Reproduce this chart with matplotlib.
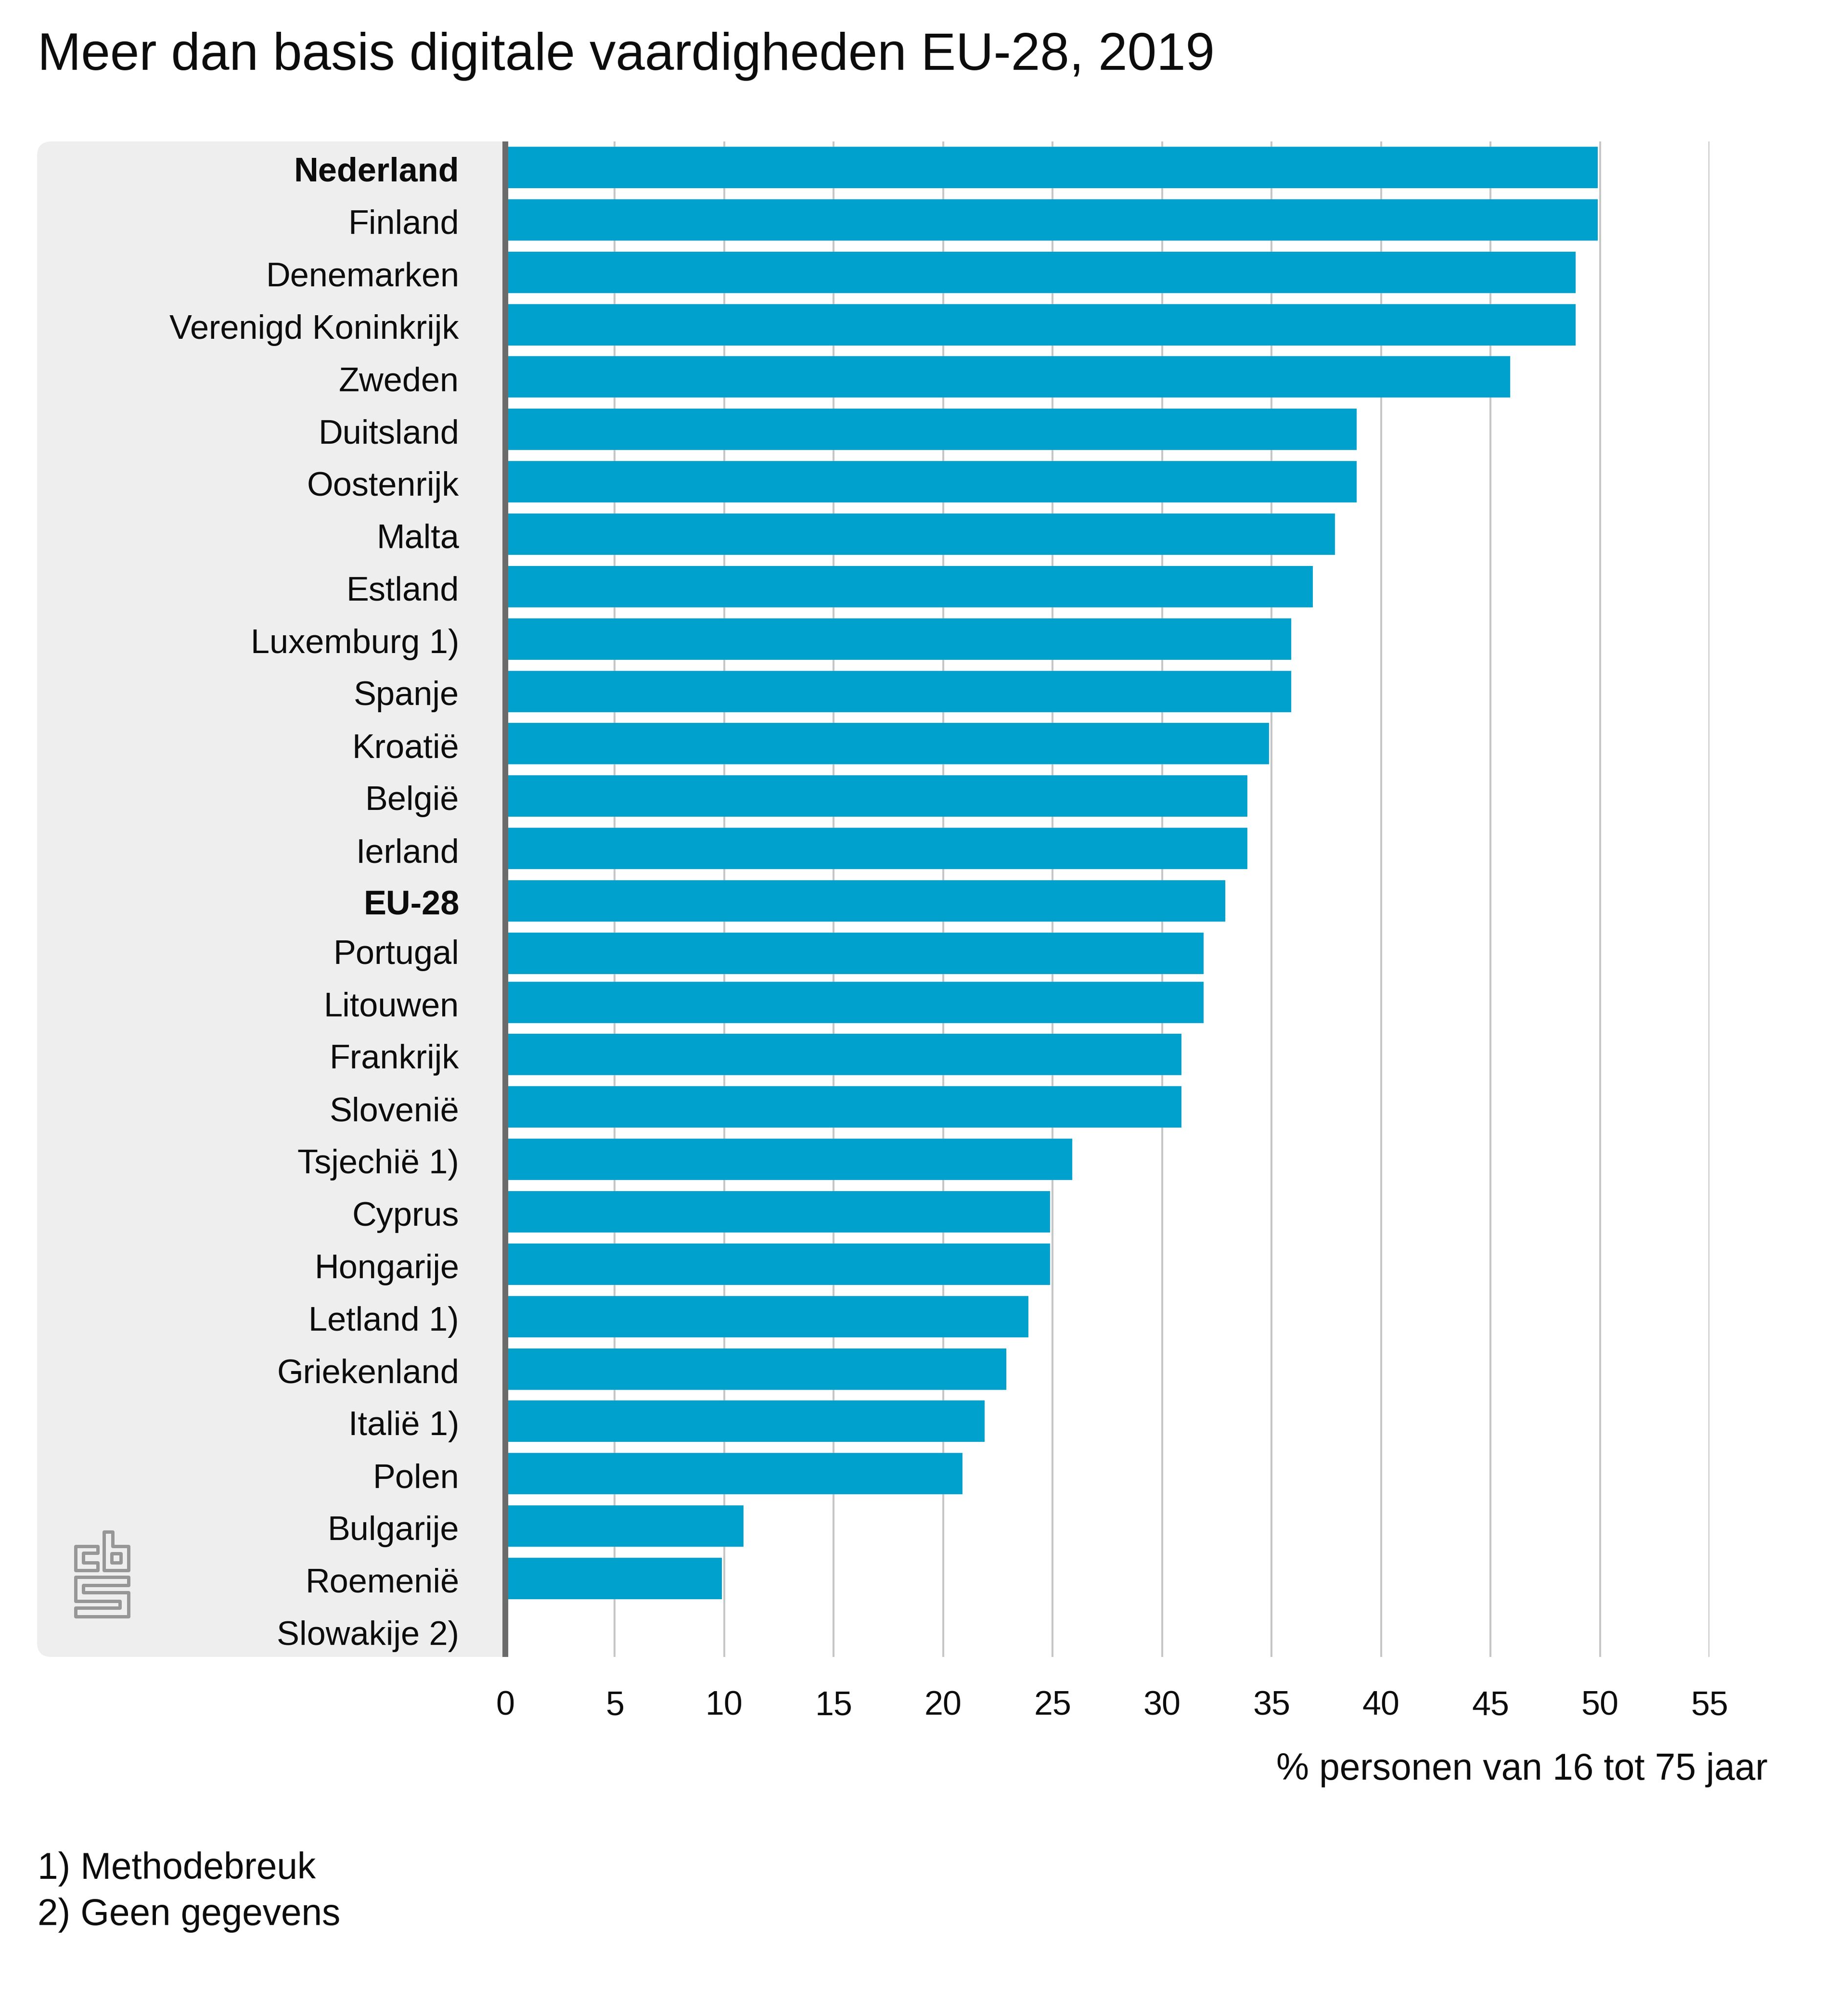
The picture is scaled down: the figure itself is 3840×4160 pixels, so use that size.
import numpy as np
import matplotlib
matplotlib.use("Agg")
import matplotlib.pyplot as plt
from matplotlib.path import Path
from matplotlib.patches import PathPatch, Polygon

plt.rcParams['font.family'] = ['Liberation Sans', 'DejaVu Sans']

title = "Meer dan basis digitale vaardigheden EU-28, 2019"
categories = ["Nederland", "Finland", "Denemarken", "Verenigd Koninkrijk", "Zweden",
              "Duitsland", "Oostenrijk", "Malta", "Estland", "Luxemburg 1)", "Spanje",
              "Kroatië", "België", "Ierland", "EU-28", "Portugal", "Litouwen",
              "Frankrijk", "Slovenië", "Tsjechië 1)", "Cyprus", "Hongarije",
              "Letland 1)", "Griekenland", "Italië 1)", "Polen", "Bulgarije",
              "Roemenië", "Slowakije 2)"]
values = [50, 50, 49, 49, 46, 39, 39, 38, 37, 36, 36, 35, 34, 34, 33, 32, 32, 31, 31,
          26, 25, 25, 24, 23, 22, 21, 11, 10, np.nan]
bold_labels = ["Nederland", "EU-28"]
x_ticks = list(range(0, 60, 5))
x_label = "% personen van 16 tot 75 jaar"
footnotes = ["1) Methodebreuk", "2) Geen gegevens"]

W, H = 3840, 4160
PX = 0.72
TEXT = '#0c0c0c'
fig = plt.figure(figsize=(W / 100, H / 100), dpi=100, facecolor='white')

# pixel-space layer for panel, logo and free text
bg = fig.add_axes([0, 0, 1, 1], zorder=0)
bg.set_xlim(0, W)
bg.set_ylim(H, 0)
bg.axis('off')

L, R, T, B, r = 77, 1046, 294, 3443, 30
panel = Path([(R, T), (L + r, T), (L, T), (L, T + r), (L, B - r), (L, B), (L + r, B), (R, B), (R, T)],
             [Path.MOVETO, Path.LINETO, Path.CURVE3, Path.CURVE3, Path.LINETO, Path.CURVE3,
              Path.CURVE3, Path.LINETO, Path.CLOSEPOLY])
bg.add_patch(PathPatch(panel, fc='#eeeeee', ec='none'))

# CBS logo outline
logo = [
    [(80, 128), (220, 128), (220, 172), (128, 172), (128, 232), (220, 232), (220, 280), (80, 280)],
    [(258, 40), (312, 40), (312, 128), (410, 128), (410, 280), (258, 280)],
    [(305, 175), (362, 175), (362, 232), (305, 232)],
    [(80, 320), (410, 320), (410, 372), (128, 372), (128, 418), (410, 418), (410, 568),
     (80, 568), (80, 512), (358, 512), (358, 470), (80, 470)],
]
for poly in logo:
    pts = [(130 + a / 3, 3170 + b / 3) for a, b in poly]
    bg.add_patch(Polygon(pts, closed=True, fc='none', ec='#979797', lw=7 * PX, joinstyle='round'))

# main axes: 0 at x=1050, 55 at x=3552
X0, X1 = 1050, 3552
ax = fig.add_axes([X0 / W, 1 - B / H, (X1 - X0) / W, (B - T) / H], zorder=1)
ax.patch.set_alpha(0)
PITCH = 108.85
ax.set_xlim(0, 55)
ax.set_ylim((B - 348) / PITCH, (T - 348) / PITCH)

n = len(categories)
idx = np.arange(n)
bar_y = idx - 7 / PITCH * (idx >= 16)
label_y = idx + 29 / PITCH - 7 / PITCH * (idx >= 15)

ax.barh(bar_y, values, left=-0.11, height=86 / PITCH, color='#00a1cd', zorder=2)

ax.set_xticks(x_ticks)
ax.set_xticklabels([str(v) for v in x_ticks])
ax.set_yticks(label_y)
ax.set_yticklabels(categories)
ax.grid(axis='x', color='#c6c6c6', lw=4 * PX, zorder=1)
ax.grid(axis='y', visible=False)
ax.set_axisbelow(True)
for s in ('top', 'right', 'bottom'):
    ax.spines[s].set_visible(False)
ax.spines['left'].set_color('#6b6b6b')
ax.spines['left'].set_linewidth(12 * PX)
ax.spines['left'].set_capstyle('butt')
ax.spines['left'].set_zorder(5)
ax.tick_params(axis='x', length=0, pad=120 * PX, labelsize=70 * PX, labelcolor=TEXT)
ax.tick_params(axis='y', length=0, pad=96 * PX, labelsize=70.3 * PX, labelcolor=TEXT)
for t in ax.get_xticklabels():
    t.set_va('baseline')
for t in ax.get_yticklabels():
    t.set_va('baseline')
    if t.get_text() in bold_labels:
        t.set_fontweight('bold')

ax.set_xlabel(x_label, fontsize=76.5 * PX, color=TEXT, ha='right', va='baseline')
ax.xaxis.set_label_coords(3673, 3698, transform=bg.transData)

bg.text(78, 145, title, fontsize=108.7 * PX, color=TEXT, ha='left', va='baseline')
bg.text(78, 3904, footnotes[0], fontsize=76.5 * PX, color=TEXT, ha='left', va='baseline')
bg.text(78, 4000, footnotes[1], fontsize=76.5 * PX, color=TEXT, ha='left', va='baseline')

fig.savefig('out.png', dpi=100, facecolor='white')
